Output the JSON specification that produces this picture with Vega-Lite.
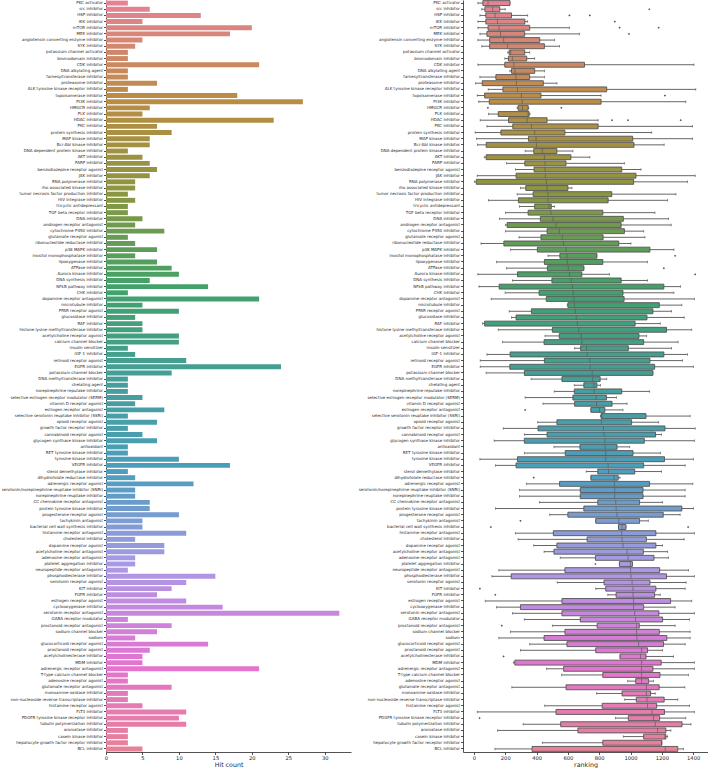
{
"$schema": "https://vega.github.io/schema/vega-lite/v6.json",
"padding": 0,
"background": "white",
"spacing": 4,
"config": {"view": {"stroke": null}, "font": "DejaVu Sans",
  "axis": {"grid": false, "domainColor": "#262626", "tickColor": "#262626", "labelColor": "#262626", "titleColor": "#262626", "domainWidth": 0.8, "tickWidth": 0.8, "titleFontWeight": "normal", "labelOverlap": false}},
"datasets": {
"stats": [
{"cat":"PKC activator","hits":3,"low":25,"q1":57,"med":90,"q3":230,"high":230},
{"cat":"src inhibitor","hits":6,"low":50,"q1":70,"med":120,"q3":165,"high":200},
{"cat":"HSP inhibitor","hits":13,"low":38,"q1":76,"med":135,"q3":240,"high":343},
{"cat":"IKK inhibitor","hits":5,"low":25,"q1":76,"med":150,"q3":325,"high":343},
{"cat":"mTOR inhibitor","hits":20,"low":25,"q1":90,"med":160,"q3":356,"high":610},
{"cat":"MEK inhibitor","hits":17,"low":38,"q1":83,"med":170,"q3":324,"high":674},
{"cat":"angiotensin converting enzyme inhibitor","hits":5,"low":25,"q1":100,"med":190,"q3":420,"high":515},
{"cat":"SYK inhibitor","hits":4,"low":50,"q1":100,"med":215,"q3":450,"high":547},
{"cat":"potassium channel activator","hits":3,"low":216,"q1":225,"med":235,"q3":324,"high":356},
{"cat":"bromodomain inhibitor","hits":3,"low":197,"q1":220,"med":245,"q3":337,"high":388},
{"cat":"CDK inhibitor","hits":21,"low":25,"q1":197,"med":255,"q3":706,"high":1405},
{"cat":"DNA alkylating agent","hits":3,"low":229,"q1":240,"med":262,"q3":388,"high":451},
{"cat":"farnesyltransferase inhibitor","hits":3,"low":38,"q1":140,"med":268,"q3":356,"high":451},
{"cat":"proteasome inhibitor","hits":7,"low":11,"q1":53,"med":271,"q3":443,"high":530},
{"cat":"ALK tyrosine kinase receptor inhibitor","hits":3,"low":91,"q1":185,"med":278,"q3":848,"high":1417},
{"cat":"topoisomerase inhibitor","hits":18,"low":21,"q1":68,"med":303,"q3":428,"high":812},
{"cat":"PI3K inhibitor","hits":27,"low":30,"q1":98,"med":308,"q3":812,"high":1353},
{"cat":"HMGCR inhibitor","hits":6,"low":276,"q1":282,"med":310,"q3":346,"high":350},
{"cat":"PLK inhibitor","hits":5,"low":93,"q1":155,"med":346,"q3":352,"high":358},
{"cat":"HDAC inhibitor","hits":23,"low":40,"q1":221,"med":339,"q3":467,"high":793},
{"cat":"PKC inhibitor","hits":7,"low":83,"q1":248,"med":367,"q3":793,"high":1396},
{"cat":"protein synthesis inhibitor","hits":9,"low":8,"q1":172,"med":388,"q3":581,"high":1135},
{"cat":"MAP kinase inhibitor","hits":6,"low":17,"q1":348,"med":397,"q3":1014,"high":1396},
{"cat":"Bcr-Abl kinase inhibitor","hits":6,"low":23,"q1":78,"med":399,"q3":1022,"high":1215},
{"cat":"DNA dependent protein kinase inhibitor","hits":3,"low":327,"q1":382,"med":437,"q3":530,"high":632},
{"cat":"AKT inhibitor","hits":5,"low":66,"q1":78,"med":450,"q3":619,"high":740},
{"cat":"PARP inhibitor","hits":6,"low":208,"q1":325,"med":454,"q3":588,"high":961},
{"cat":"benzodiazepine receptor agonist","hits":7,"low":265,"q1":384,"med":454,"q3":944,"high":1067},
{"cat":"JAK inhibitor","hits":6,"low":21,"q1":269,"med":456,"q3":1035,"high":1413},
{"cat":"RNA polymerase inhibitor","hits":4,"low":3,"q1":15,"med":462,"q3":1020,"high":1364},
{"cat":"rho associated kinase inhibitor","hits":4,"low":297,"q1":331,"med":467,"q3":600,"high":626},
{"cat":"tumor necrosis factor production inhibitor","hits":3,"low":276,"q1":378,"med":473,"q3":880,"high":1290},
{"cat":"HIV integrase inhibitor","hits":4,"low":93,"q1":284,"med":473,"q3":857,"high":1237},
{"cat":"tricyclic antidepressant","hits":3,"low":291,"q1":388,"med":479,"q3":494,"high":515},
{"cat":"TGF beta receptor inhibitor","hits":3,"low":201,"q1":346,"med":492,"q3":823,"high":1156},
{"cat":"DNA inhibitor","hits":5,"low":163,"q1":424,"med":505,"q3":954,"high":1243},
{"cat":"androgen receptor antagonist","hits":4,"low":201,"q1":212,"med":524,"q3":940,"high":1260},
{"cat":"cytochrome P450 inhibitor","hits":8,"low":201,"q1":467,"med":545,"q3":961,"high":1084},
{"cat":"glutamate receptor agonist","hits":3,"low":288,"q1":428,"med":564,"q3":825,"high":1092},
{"cat":"ribonucleotide reductase inhibitor","hits":4,"low":45,"q1":191,"med":571,"q3":925,"high":1003},
{"cat":"p38 MAPK inhibitor","hits":7,"low":233,"q1":405,"med":588,"q3":1124,"high":1277},
{"cat":"inositol monophosphatase inhibitor","hits":4,"low":473,"q1":549,"med":594,"q3":785,"high":785},
{"cat":"lipoxygenase inhibitor","hits":7,"low":144,"q1":450,"med":596,"q3":823,"high":1109},
{"cat":"ATPase inhibitor","hits":9,"low":208,"q1":469,"med":602,"q3":702,"high":702},
{"cat":"Aurora kinase inhibitor","hits":10,"low":25,"q1":278,"med":611,"q3":689,"high":865},
{"cat":"DNA synthesis inhibitor","hits":6,"low":246,"q1":498,"med":621,"q3":940,"high":1109},
{"cat":"NFkB pathway inhibitor","hits":14,"low":32,"q1":161,"med":630,"q3":1213,"high":1319},
{"cat":"CHK inhibitor","hits":3,"low":199,"q1":416,"med":634,"q3":952,"high":1277},
{"cat":"dopamine receptor antagonist","hits":21,"low":110,"q1":462,"med":638,"q3":959,"high":1408},
{"cat":"microtubule inhibitor","hits":5,"low":596,"q1":600,"med":643,"q3":1184,"high":1328},
{"cat":"PPAR receptor agonist","hits":10,"low":225,"q1":367,"med":647,"q3":1143,"high":1262},
{"cat":"glucosidase inhibitor","hits":4,"low":240,"q1":269,"med":653,"q3":1105,"high":1343},
{"cat":"RAF inhibitor","hits":5,"low":55,"q1":68,"med":660,"q3":1029,"high":1190},
{"cat":"histone lysine methyltransferase inhibitor","hits":5,"low":155,"q1":501,"med":670,"q3":1230,"high":1391},
{"cat":"acetylcholine receptor agonist","hits":10,"low":454,"q1":545,"med":685,"q3":1054,"high":1103},
{"cat":"calcium channel blocker","hits":10,"low":182,"q1":448,"med":689,"q3":1084,"high":1304},
{"cat":"insulin sensitizer","hits":3,"low":643,"q1":681,"med":719,"q3":986,"high":1262},
{"cat":"IGF-1 inhibitor","hits":4,"low":83,"q1":231,"med":723,"q3":1213,"high":1364},
{"cat":"retinoid receptor agonist","hits":11,"low":40,"q1":450,"med":740,"q3":1124,"high":1332},
{"cat":"EGFR inhibitor","hits":24,"low":40,"q1":229,"med":742,"q3":1154,"high":1402},
{"cat":"potassium channel blocker","hits":9,"low":78,"q1":322,"med":755,"q3":1143,"high":1143},
{"cat":"DNA methyltransferase inhibitor","hits":3,"low":365,"q1":562,"med":759,"q3":806,"high":848},
{"cat":"chelating agent","hits":3,"low":641,"q1":702,"med":766,"q3":785,"high":808},
{"cat":"norepinephrine reputake inhibitor","hits":3,"low":513,"q1":641,"med":768,"q3":944,"high":1122},
{"cat":"selective estrogen receptor modulator (SERM)","hits":5,"low":327,"q1":632,"med":781,"q3":846,"high":910},
{"cat":"vitamin D receptor agonist","hits":4,"low":441,"q1":643,"med":783,"q3":882,"high":978},
{"cat":"estrogen receptor antagonist","hits":8,"low":747,"q1":747,"med":802,"q3":836,"high":952},
{"cat":"selective serotonin reuptake inhibitor (SSRI)","hits":3,"low":808,"q1":812,"med":817,"q3":1099,"high":1381},
{"cat":"opioid receptor agonist","hits":7,"low":407,"q1":530,"med":814,"q3":1007,"high":1179},
{"cat":"growth factor receptor inhibitor","hits":3,"low":187,"q1":409,"med":827,"q3":1220,"high":1413},
{"cat":"cannabinoid receptor agonist","hits":5,"low":322,"q1":467,"med":831,"q3":1160,"high":1198},
{"cat":"glycogen synthase kinase inhibitor","hits":7,"low":129,"q1":322,"med":836,"q3":1088,"high":1408},
{"cat":"antioxidant","hits":3,"low":511,"q1":677,"med":838,"q3":914,"high":995},
{"cat":"RET tyrosine kinase inhibitor","hits":3,"low":322,"q1":583,"med":842,"q3":1016,"high":1192},
{"cat":"tyrosine kinase inhibitor","hits":10,"low":38,"q1":278,"med":842,"q3":1217,"high":1402},
{"cat":"VEGFR inhibitor","hits":17,"low":138,"q1":269,"med":857,"q3":1084,"high":1349},
{"cat":"sterol demethylase inhibitor","hits":3,"low":717,"q1":791,"med":859,"q3":1027,"high":1198},
{"cat":"dihydrofolate reductase inhibitor","hits":4,"low":747,"q1":747,"med":895,"q3":921,"high":933},
{"cat":"adrenergic receptor agonist","hits":12,"low":335,"q1":547,"med":897,"q3":1122,"high":1398},
{"cat":"serotonin/norepinephrine reuptake inhibitor (SNRI)","hits":4,"low":291,"q1":679,"med":899,"q3":1080,"high":1349},
{"cat":"norepinephrine reuptake inhibitor","hits":4,"low":291,"q1":679,"med":899,"q3":1080,"high":1349},
{"cat":"CC chemokine receptor antagonist","hits":6,"low":418,"q1":791,"med":906,"q3":1058,"high":1205},
{"cat":"protein tyrosine kinase inhibitor","hits":6,"low":138,"q1":702,"med":908,"q3":1328,"high":1402},
{"cat":"progesterone receptor agonist","hits":10,"low":484,"q1":600,"med":914,"q3":1209,"high":1317},
{"cat":"tachykinin antagonist","hits":5,"low":778,"q1":778,"med":925,"q3":1058,"high":1114},
{"cat":"bacterial cell wall synthesis inhibitor","hits":5,"low":923,"q1":923,"med":946,"q3":971,"high":971},
{"cat":"histamine receptor antagonist","hits":11,"low":265,"q1":507,"med":944,"q3":1162,"high":1408},
{"cat":"cholesterol inhibitor","hits":4,"low":282,"q1":723,"med":946,"q3":1101,"high":1343},
{"cat":"dopamine receptor agonist","hits":8,"low":382,"q1":530,"med":952,"q3":1162,"high":1205},
{"cat":"acetylcholine receptor antagonist","hits":8,"low":448,"q1":511,"med":978,"q3":1082,"high":1237},
{"cat":"adenosine receptor antagonist","hits":4,"low":551,"q1":776,"med":984,"q3":1150,"high":1243},
{"cat":"platelet aggregation inhibitor","hits":4,"low":929,"q1":929,"med":999,"q3":1012,"high":1012},
{"cat":"neuropeptide receptor antagonist","hits":3,"low":159,"q1":581,"med":1001,"q3":1186,"high":1370},
{"cat":"phosphodiesterase inhibitor","hits":15,"low":115,"q1":238,"med":1003,"q3":1230,"high":1408},
{"cat":"serotonin receptor agonist","hits":11,"low":532,"q1":831,"med":1010,"q3":1124,"high":1355},
{"cat":"KIT inhibitor","hits":9,"low":778,"q1":842,"med":1016,"q3":1162,"high":1349},
{"cat":"FGFR inhibitor","hits":7,"low":855,"q1":908,"med":1016,"q3":1154,"high":1190},
{"cat":"estrogen receptor agonist","hits":11,"low":72,"q1":562,"med":1020,"q3":1256,"high":1391},
{"cat":"cyclooxygenase inhibitor","hits":16,"low":144,"q1":297,"med":1020,"q3":1084,"high":1285},
{"cat":"serotonin receptor antagonist","hits":32,"low":246,"q1":562,"med":1027,"q3":1181,"high":1408},
{"cat":"GABA receptor modulator","hits":3,"low":322,"q1":679,"med":1033,"q3":1205,"high":1377},
{"cat":"prostanoid receptor antagonist","hits":9,"low":501,"q1":787,"med":1039,"q3":1056,"high":1285},
{"cat":"sodium channel blocker","hits":7,"low":233,"q1":581,"med":1039,"q3":1184,"high":1381},
{"cat":"sodium","hits":4,"low":159,"q1":448,"med":1041,"q3":1232,"high":1381},
{"cat":"glucocorticoid receptor agonist","hits":14,"low":356,"q1":594,"med":1052,"q3":1211,"high":1349},
{"cat":"prostanoid receptor agonist","hits":6,"low":297,"q1":778,"med":1071,"q3":1109,"high":1205},
{"cat":"acetylcholinesterase inhibitor","hits":5,"low":933,"q1":933,"med":1063,"q3":1099,"high":1275},
{"cat":"MDM inhibitor","hits":5,"low":252,"q1":261,"med":1071,"q3":1196,"high":1408},
{"cat":"adrenergic receptor antagonist","hits":21,"low":464,"q1":573,"med":1071,"q3":1143,"high":1408},
{"cat":"T-type calcium channel blocker","hits":3,"low":560,"q1":823,"med":1071,"q3":1188,"high":1370},
{"cat":"adenosine receptor agonist","hits":3,"low":982,"q1":1033,"med":1071,"q3":1116,"high":1147},
{"cat":"glutamate receptor antagonist","hits":9,"low":242,"q1":588,"med":1101,"q3":1183,"high":1347},
{"cat":"monoamine oxidase inhibitor","hits":3,"low":783,"q1":946,"med":1101,"q3":1128,"high":1158},
{"cat":"non-nucleoside reverse transcriptase inhibitor","hits":3,"low":963,"q1":1037,"med":1105,"q3":1215,"high":1302},
{"cat":"histamine receptor agonist","hits":5,"low":452,"q1":819,"med":1109,"q3":1167,"high":1377},
{"cat":"FLT3 inhibitor","hits":11,"low":21,"q1":524,"med":1137,"q3":1217,"high":1408},
{"cat":"PDGFR tyrosine kinase receptor inhibitor","hits":10,"low":904,"q1":986,"med":1147,"q3":1186,"high":1353},
{"cat":"tubulin polymerization inhibitor","hits":11,"low":314,"q1":554,"med":1158,"q3":1329,"high":1386},
{"cat":"aromatase inhibitor","hits":3,"low":151,"q1":664,"med":1173,"q3":1226,"high":1258},
{"cat":"casein kinase inhibitor","hits":3,"low":954,"q1":1084,"med":1220,"q3":1226,"high":1237},
{"cat":"hepatocyte growth factor receptor inhibitor","hits":3,"low":437,"q1":823,"med":1198,"q3":1200,"high":1200},
{"cat":"BCL inhibitor","hits":5,"low":134,"q1":371,"med":1222,"q3":1302,"high":1338}
],
"out": [
{"cat":"src inhibitor","v":1120},
{"cat":"HSP inhibitor","v":610},
{"cat":"HSP inhibitor","v":740},
{"cat":"IKK inhibitor","v":900},
{"cat":"mTOR inhibitor","v":930},
{"cat":"mTOR inhibitor","v":1180},
{"cat":"MEK inhibitor","v":990},
{"cat":"topoisomerase inhibitor","v":1220},
{"cat":"HMGCR inhibitor","v":89},
{"cat":"HMGCR inhibitor","v":558},
{"cat":"HDAC inhibitor","v":882},
{"cat":"HDAC inhibitor","v":984},
{"cat":"HDAC inhibitor","v":1321},
{"cat":"inositol monophosphatase inhibitor","v":1285},
{"cat":"ATPase inhibitor","v":1213},
{"cat":"Aurora kinase inhibitor","v":1413},
{"cat":"estrogen receptor antagonist","v":327},
{"cat":"dihydrofolate reductase inhibitor","v":382},
{"cat":"tachykinin antagonist","v":297},
{"cat":"bacterial cell wall synthesis inhibitor","v":108},
{"cat":"bacterial cell wall synthesis inhibitor","v":1368},
{"cat":"platelet aggregation inhibitor","v":776},
{"cat":"KIT inhibitor","v":38},
{"cat":"FGFR inhibitor","v":136},
{"cat":"prostanoid receptor antagonist","v":178},
{"cat":"acetylcholinesterase inhibitor","v":189},
{"cat":"PDGFR tyrosine kinase receptor inhibitor","v":36}
]
},
"resolve": {"scale": {"x": "independent", "y": "independent", "color": "independent"}},
"hconcat": [
{
"width": 245, "height": 752,
"data": {"name": "stats"},
"mark": {"type": "bar"},
"encoding": {
  "y": {"field": "cat", "type": "nominal", "sort": null,
        "scale": {"paddingInner": 0.2, "paddingOuter": 0.1},
        "axis": {"title": null, "labelFontSize": 4, "tickSize": 2.5, "labelPadding": 1, "minExtent": 106, "maxExtent": 106, "labelLimit": 200, "labelOverlap": false}},
  "x": {"field": "hits", "type": "quantitative", "scale": {"domain": [0, 33.6], "nice": false},
        "axis": {"title": "Hit count", "values": [0,5,10,15,20,25,30], "format": "d", "labelFontSize": 5.2, "titleFontSize": 6.3, "tickSize": 2.5, "labelPadding": 1, "titlePadding": 1, "labelFlush": false, "labelOverlap": false}},
  "color": {"field": "cat", "type": "nominal", "sort": null, "legend": null,
        "scale": {"range": ["#e68294","#e3838f","#e0838a","#de8485","#db8580","#d8857a","#d58675","#d28770","#cf876b","#cd8866","#ca8961","#c7895c","#c48a57","#c18b52","#bf8b4c","#bc8c47","#b98d46","#b68d45","#b38e45","#af8f44","#ac8f44","#a99043","#a69043","#a39142","#a09242","#9d9242","#9a9341","#979441","#949440","#919540","#8e963f","#8a9640","#859743","#809846","#7b9949","#76994b","#719a4e","#6d9b51","#689b54","#639c56","#5e9d59","#599e5c","#549e5f","#4f9f61","#4ba064","#46a167","#42a16a","#42a16d","#42a170","#43a073","#43a076","#43a079","#43a07c","#43a07f","#449f82","#449f86","#449f89","#449f8c","#449f8f","#459e92","#459e95","#459e98","#469e9a","#469e9d","#469e9f","#479ea2","#479ea4","#489ea7","#489ea9","#499eab","#499eae","#4a9eb0","#4a9eb3","#4b9eb5","#4b9eb8","#4b9eba","#4c9ebc","#519ebf","#579dc2","#5d9dc5","#639dc7","#6a9cca","#709ccd","#769cd0","#7c9cd2","#839bd5","#899bd8","#8f9bdb","#959add","#9b9ae0","#a29ae3","#a899e6","#ad98e6","#b195e5","#b493e3","#b891e2","#bc8ee1","#bf8cdf","#c389de","#c787dc","#ca84db","#ce82d9","#d280d8","#d57dd6","#d97bd5","#dd78d4","#e076d2","#e374d0","#e375cc","#e376c8","#e477c4","#e478c0","#e479bc","#e47ab8","#e47bb4","#e57cb0","#e57dac","#e57da8","#e57ea4","#e57fa0","#e6809c","#e68198"]}}
}
},
{
"width": 245, "height": 752,
"encoding": {
  "y": {"field": "cat", "type": "nominal", "sort": null,
        "scale": {"paddingInner": 0.2, "paddingOuter": 0.1},
        "axis": {"title": null, "labelFontSize": 4, "tickSize": 2.5, "labelPadding": 1, "minExtent": 108, "maxExtent": 108, "labelLimit": 200, "labelOverlap": false}}
},
"layer": [
{
  "data": {"name": "stats"},
  "mark": {"type": "rule", "color": "#555555", "strokeWidth": 0.9},
  "encoding": {
    "x": {"field": "low", "type": "quantitative", "scale": {"domain": [-70, 1495], "nice": false},
          "axis": {"title": "ranking", "values": [0,200,400,600,800,1000,1200,1400], "format": "d", "labelFontSize": 5.2, "titleFontSize": 6.3, "tickSize": 2.5, "labelPadding": 1, "titlePadding": 1, "labelFlush": false, "labelOverlap": false}},
    "x2": {"field": "high"}
  }
},
{
  "data": {"name": "stats"},
  "mark": {"type": "tick", "color": "#555555", "thickness": 0.9, "size": 2.5},
  "encoding": {
    "x": {"field": "low", "type": "quantitative",
          "axis": {"title": "ranking", "values": [0,200,400,600,800,1000,1200,1400], "format": "d", "labelFontSize": 5.2, "titleFontSize": 6.3, "tickSize": 2.5, "labelPadding": 1, "titlePadding": 1, "labelFlush": false, "labelOverlap": false}}
  }
},
{
  "data": {"name": "stats"},
  "mark": {"type": "tick", "color": "#555555", "thickness": 0.9, "size": 2.5},
  "encoding": {
    "x": {"field": "high", "type": "quantitative",
          "axis": {"title": "ranking", "values": [0,200,400,600,800,1000,1200,1400], "format": "d", "labelFontSize": 5.2, "titleFontSize": 6.3, "tickSize": 2.5, "labelPadding": 1, "titlePadding": 1, "labelFlush": false, "labelOverlap": false}}
  }
},
{
  "data": {"name": "stats"},
  "mark": {"type": "bar", "stroke": "#555555", "strokeWidth": 0.9},
  "encoding": {
    "x": {"field": "q1", "type": "quantitative",
          "axis": {"title": "ranking", "values": [0,200,400,600,800,1000,1200,1400], "format": "d", "labelFontSize": 5.2, "titleFontSize": 6.3, "tickSize": 2.5, "labelPadding": 1, "titlePadding": 1, "labelFlush": false, "labelOverlap": false}},
    "x2": {"field": "q3"},
    "color": {"field": "cat", "type": "nominal", "sort": null, "legend": null,
        "scale": {"range": ["#e68294","#e3838f","#e0838a","#de8485","#db8580","#d8857a","#d58675","#d28770","#cf876b","#cd8866","#ca8961","#c7895c","#c48a57","#c18b52","#bf8b4c","#bc8c47","#b98d46","#b68d45","#b38e45","#af8f44","#ac8f44","#a99043","#a69043","#a39142","#a09242","#9d9242","#9a9341","#979441","#949440","#919540","#8e963f","#8a9640","#859743","#809846","#7b9949","#76994b","#719a4e","#6d9b51","#689b54","#639c56","#5e9d59","#599e5c","#549e5f","#4f9f61","#4ba064","#46a167","#42a16a","#42a16d","#42a170","#43a073","#43a076","#43a079","#43a07c","#43a07f","#449f82","#449f86","#449f89","#449f8c","#449f8f","#459e92","#459e95","#459e98","#469e9a","#469e9d","#469e9f","#479ea2","#479ea4","#489ea7","#489ea9","#499eab","#499eae","#4a9eb0","#4a9eb3","#4b9eb5","#4b9eb8","#4b9eba","#4c9ebc","#519ebf","#579dc2","#5d9dc5","#639dc7","#6a9cca","#709ccd","#769cd0","#7c9cd2","#839bd5","#899bd8","#8f9bdb","#959add","#9b9ae0","#a29ae3","#a899e6","#ad98e6","#b195e5","#b493e3","#b891e2","#bc8ee1","#bf8cdf","#c389de","#c787dc","#ca84db","#ce82d9","#d280d8","#d57dd6","#d97bd5","#dd78d4","#e076d2","#e374d0","#e375cc","#e376c8","#e477c4","#e478c0","#e479bc","#e47ab8","#e47bb4","#e57cb0","#e57dac","#e57da8","#e57ea4","#e57fa0","#e6809c","#e68198"]}}
  }
},
{
  "data": {"name": "stats"},
  "mark": {"type": "tick", "color": "#555555", "thickness": 0.9, "size": 4.9},
  "encoding": {
    "x": {"field": "med", "type": "quantitative",
          "axis": {"title": "ranking", "values": [0,200,400,600,800,1000,1200,1400], "format": "d", "labelFontSize": 5.2, "titleFontSize": 6.3, "tickSize": 2.5, "labelPadding": 1, "titlePadding": 1, "labelFlush": false, "labelOverlap": false}}
  }
},
{
  "data": {"name": "out"},
  "mark": {"type": "point", "shape": "diamond", "filled": true, "color": "#555555", "size": 5, "opacity": 1},
  "encoding": {
    "x": {"field": "v", "type": "quantitative",
          "axis": {"title": "ranking", "values": [0,200,400,600,800,1000,1200,1400], "format": "d", "labelFontSize": 5.2, "titleFontSize": 6.3, "tickSize": 2.5, "labelPadding": 1, "titlePadding": 1, "labelFlush": false, "labelOverlap": false}}
  }
}
]
}
]
}
